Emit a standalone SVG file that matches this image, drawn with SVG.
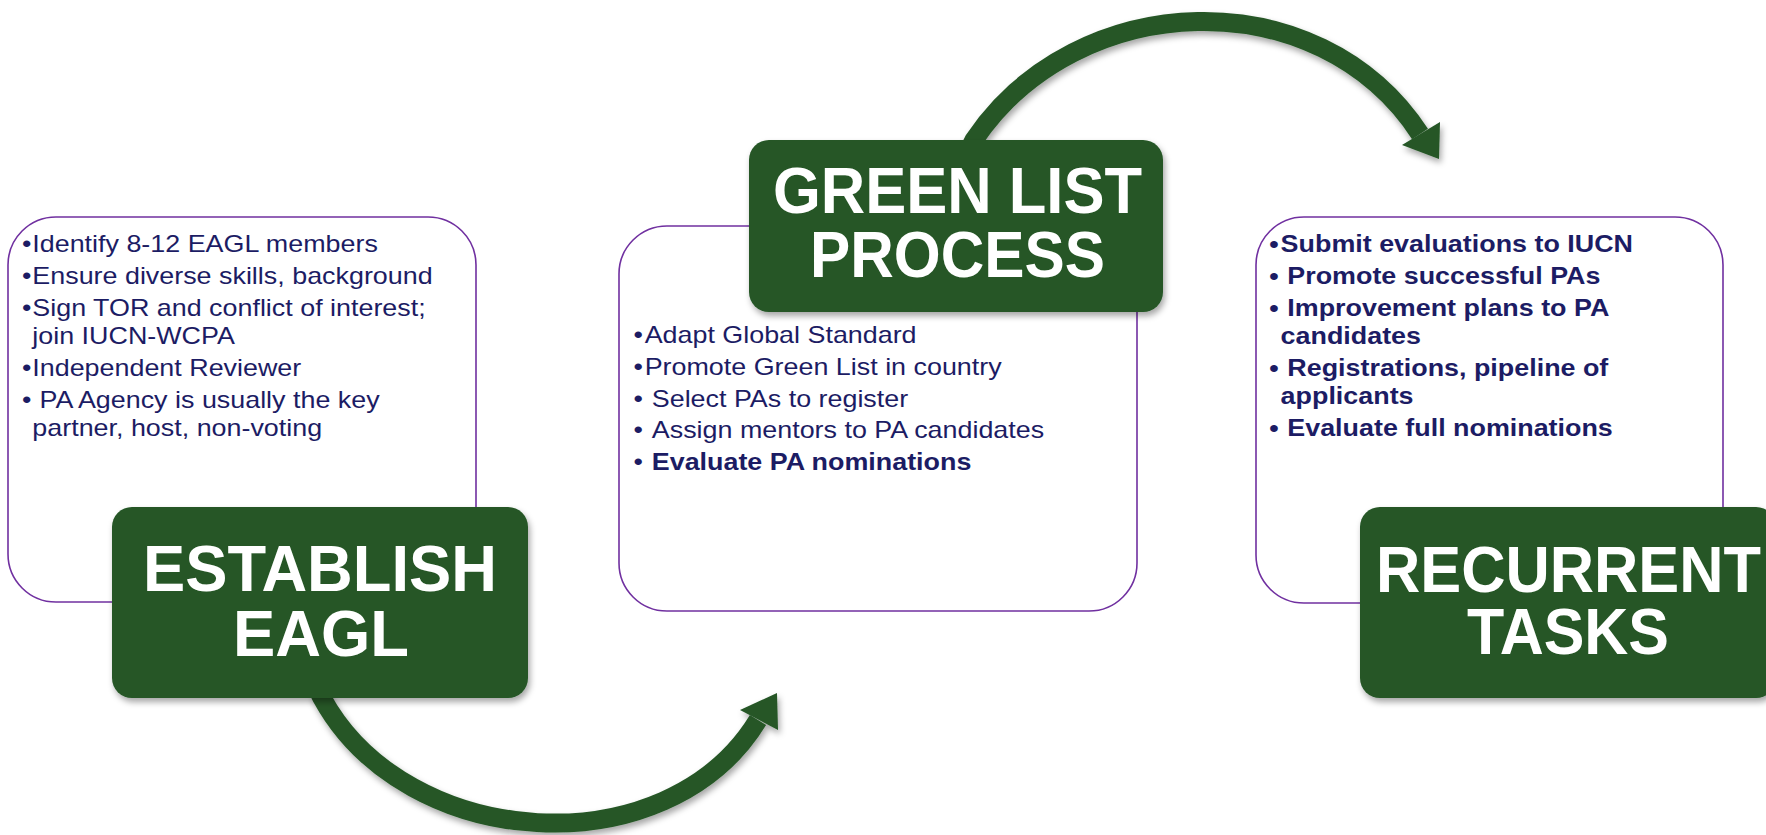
<svg xmlns="http://www.w3.org/2000/svg" width="1766" height="835" viewBox="0 0 1766 835">
<defs>
<filter id="sh" x="-20%" y="-20%" width="140%" height="140%">
<feDropShadow dx="2" dy="4" stdDeviation="3" flood-color="#000" flood-opacity="0.35"/>
</filter>
<style>
.panel{fill:#fff;stroke:#7030A0;stroke-width:1.6}
.head{fill:#255726}
.arc{fill:none;stroke:#255726;stroke-width:19}
.tip{fill:#255726}
.ht{font-family:"Liberation Sans",Arial,sans-serif;font-weight:bold;font-size:65px;fill:#fff;text-anchor:middle}
.bt{font-family:"Liberation Sans",Arial,sans-serif;font-size:23.8px;fill:#1C1C64}
.b{font-weight:bold}
</style>
</defs>
<rect width="1766" height="835" fill="#fff"/>

<g id="panel-establish">
<rect class="panel" x="8" y="217" width="468" height="385" rx="48"/>
<g transform="scale(1.13,1)" class="bt">
<text x="19.5" y="252">•</text><text x="28.6" y="252">Identify 8-12 EAGL members</text>
<text x="19.5" y="284">•</text><text x="28.6" y="284">Ensure diverse skills, background</text>
<text x="19.5" y="316">•</text><text x="28.6" y="316">Sign TOR and conflict of interest;</text>
<text x="28.6" y="344">join IUCN-WCPA</text>
<text x="19.5" y="376">•</text><text x="28.6" y="376">Independent Reviewer</text>
<text x="19.5" y="408">•</text><text x="35" y="408">PA Agency is usually the key</text>
<text x="28.6" y="436">partner, host, non-voting</text>
</g>
</g>

<g id="panel-process">
<rect class="panel" x="619" y="226" width="518" height="385" rx="48"/>
<g transform="scale(1.13,1)" class="bt">
<text x="560.7" y="343.5">•</text><text x="570.5" y="343.5">Adapt Global Standard</text>
<text x="560.7" y="375">•</text><text x="570.5" y="375">Promote Green List in country</text>
<text x="560.7" y="407">•</text><text x="576.8" y="407">Select PAs to register</text>
<text x="560.7" y="438.5">•</text><text x="576.8" y="438.5">Assign mentors to PA candidates</text>
<text x="560.7" y="470">•</text><text class="b" x="576.8" y="470">Evaluate PA nominations</text>
</g>
</g>

<g id="panel-recurrent">
<rect class="panel" x="1256" y="217" width="467" height="386" rx="48"/>
<g transform="scale(1.13,1)" class="bt b">
<text x="1123.3" y="252">•</text><text x="1133.3" y="252">Submit evaluations to IUCN</text>
<text x="1123.3" y="284">•</text><text x="1139.2" y="284">Promote successful PAs</text>
<text x="1123.3" y="316">•</text><text x="1139.2" y="316">Improvement plans to PA</text>
<text x="1133.3" y="344">candidates</text>
<text x="1123.3" y="376">•</text><text x="1139.2" y="376">Registrations, pipeline of</text>
<text x="1133.3" y="404">applicants</text>
<text x="1123.3" y="436">•</text><text x="1139.2" y="436">Evaluate full nominations</text>
</g>
</g>

<g id="connectors" filter="url(#sh)">
<path class="arc" d="M318,690 L322,698 C406,852 667,869 758,720"/>
<polygon class="tip" points="740,710 777,693 778,730"/>
<path class="arc" d="M969,150 L974,140 C1077,-13 1319,-21 1420,134"/>
<polygon class="tip" points="1402,145 1440,122 1439,159"/>
</g>

<g id="node-establish">
<rect class="head" x="112" y="507" width="416" height="191" rx="20" filter="url(#sh)"/>
<text class="ht" x="320" y="591" textLength="354" lengthAdjust="spacingAndGlyphs">ESTABLISH</text>
<text class="ht" x="321" y="656" textLength="176" lengthAdjust="spacingAndGlyphs">EAGL</text>
</g>

<g id="node-process">
<rect class="head" x="749" y="140" width="414" height="172" rx="20" filter="url(#sh)"/>
<text class="ht" x="957.5" y="213" textLength="369" lengthAdjust="spacingAndGlyphs">GREEN LIST</text>
<text class="ht" x="957.5" y="277" textLength="295" lengthAdjust="spacingAndGlyphs">PROCESS</text>
</g>

<g id="node-recurrent">
<rect class="head" x="1360" y="507" width="416" height="191" rx="20" filter="url(#sh)"/>
<text class="ht" x="1568.5" y="592" textLength="385" lengthAdjust="spacingAndGlyphs">RECURRENT</text>
<text class="ht" x="1568" y="654" textLength="202" lengthAdjust="spacingAndGlyphs">TASKS</text>
</g>
</svg>
